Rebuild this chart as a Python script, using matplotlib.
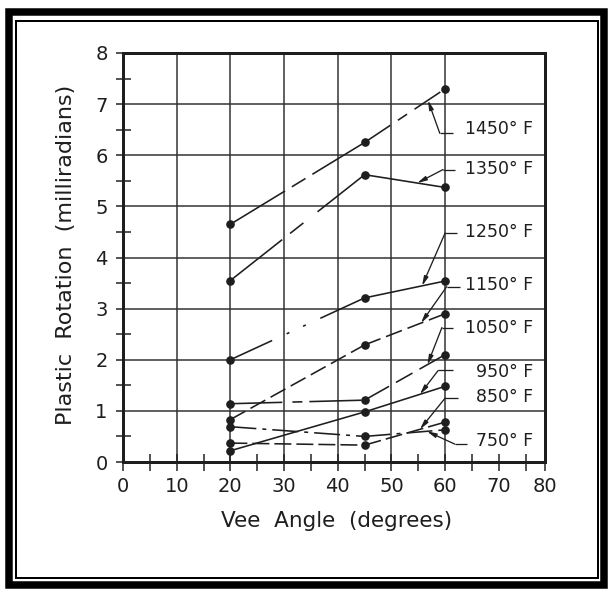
import matplotlib
matplotlib.use('Agg')
import matplotlib.pyplot as plt
import numpy as np
from matplotlib.ticker import MultipleLocator, FixedLocator
from matplotlib.patches import Rectangle

# ---------------- data ----------------
vee_angle = [20, 45, 60]
rot_1450 = [4.65, 6.25, 7.30]
rot_1350 = [3.55, 5.62, 5.37]
rot_1250 = [2.00, 3.21, 3.54]
rot_1150 = [0.83, 2.29, 2.90]
rot_1050 = [1.14, 1.21, 2.10]
rot_950 = [0.22, 0.98, 1.48]
rot_850 = [0.37, 0.33, 0.78]
rot_750 = [0.69, 0.50, 0.63]
temp_labels = ['1450° F', '1350° F', '1250° F', '1150° F',
               '1050° F', '950° F', '850° F', '750° F']
x_tick_values = [0, 10, 20, 30, 40, 50, 60, 70, 80]
y_tick_values = [0, 1, 2, 3, 4, 5, 6, 7, 8]
x_label = 'Vee  Angle  (degrees)'
y_label = 'Plastic  Rotation  (milliradians)'

series = [rot_1450, rot_1350, rot_1250, rot_1150,
          rot_1050, rot_950, rot_850, rot_750]

# ---------------- styles ----------------
# dash patterns per segment (pixels); None = solid
seg_styles = [
    ([64, 8, 16, 8], [31, 9, 11, 9]),
    ([66, 10, 17, 18], None),
    ([46, 16, 3, 15, 3, 16], None),
    ([17, 6], [17, 6]),
    ([52, 10, 10, 7], [28, 8, 19, 8]),
    (None, None),
    ([17, 5], [17, 5]),
    ([26, 6, 4, 6], [26, 6, 4, 6]),
]
# label placement: (text y, leader y, leader start x, corner x, arrow tip x)
label_pos = [
    (6.52, 6.43, 61.4, 59.0, 56.8),
    (5.74, 5.72, 61.8, 59.6, 54.8),
    (4.50, 4.48, 62.2, 60.0, 55.7),
    (3.46, 3.43, 62.8, 60.3, 55.5),
    (2.63, 2.63, 61.4, 59.4, 56.7),
    (1.77, 1.79, 61.4, 58.7, 55.3),
    (1.27, 1.25, 62.4, 60.0, 55.3),
    (0.41, 0.35, 64.1, 61.8, 56.6),
]
label_right_x = 76.35
ink = '#1e1e1e'
px = 72.0 / 100.0  # points per pixel at dpi 100

plt.rcParams['font.family'] = ['DejaVu Sans']
plt.rcParams['lines.scale_dashes'] = False

W, H = 610, 593
fig = plt.figure(figsize=(W / 100, H / 100), dpi=100)
fig.patch.set_facecolor('white')

# axes box in pixels
L, R, T, B = 123, 545, 53, 462
ax = fig.add_axes([L / W, 1 - B / H, (R - L) / W, (B - T) / H])
ax.set_xlim(0, 78.6)
ax.set_ylim(0, 8)

# grid
ax.vlines([v for v in x_tick_values if 0 < v <= 60], 0, 8, colors='#303030',
          linewidth=1.5 * px, zorder=1)
ax.hlines([v for v in y_tick_values if 0 < v < 8], 0, 78.6, colors='#303030',
          linewidth=1.5 * px, zorder=1)

# series
for vals, (s1, s2) in zip(series, seg_styles):
    for i, st in enumerate((s1, s2)):
        xs = vee_angle[i:i + 2]
        ys = vals[i:i + 2]
        line, = ax.plot(xs, ys, color=ink, linewidth=1.6 * px, zorder=3,
                        solid_capstyle='butt', dash_capstyle='butt')
        if st is not None:
            line.set_dashes([d * px for d in st])
    ax.plot(vee_angle, vals, linestyle='none', marker='o', markersize=5.2,
            color=ink, zorder=4)

# labels with leaders
for lab, vals, (ty, ly, sx, cx, tx) in zip(temp_labels, series, label_pos):
    tip_y = float(np.interp(tx, vee_angle, vals))
    ax.text(label_right_x, ty, lab, ha='right', va='center', fontsize=12.5,
            color=ink, zorder=5)
    ax.plot([sx, cx], [ly, ly], color=ink, linewidth=1.3 * px, zorder=5,
            solid_capstyle='butt')
    ax.annotate('', xy=(tx, tip_y), xytext=(cx, ly),
                arrowprops=dict(arrowstyle='-|>,head_length=0.55,head_width=0.13',
                                color=ink, lw=1.3 * px, shrinkA=0, shrinkB=0),
                zorder=5)

# spines
for sp in ax.spines.values():
    sp.set_linewidth(3 * px)
    sp.set_color(ink)
    sp.set_zorder(6)

# ticks
xt = [v for v in x_tick_values if v < 80] + [78.6]
ax.xaxis.set_major_locator(FixedLocator(xt))
ax.set_xticklabels([str(v) for v in x_tick_values])
ax.xaxis.set_minor_locator(FixedLocator([5, 15, 25, 35, 45, 55, 65, 75]))
ax.yaxis.set_major_locator(FixedLocator(y_tick_values))
ax.yaxis.set_minor_locator(MultipleLocator(0.5))
ax.tick_params(axis='x', which='both', direction='inout', length=17 * px,
               width=1.5 * px, color=ink, labelsize=14, pad=5, labelcolor=ink)
ax.tick_params(axis='y', which='major', direction='out', length=7 * px,
               width=1.5 * px, color=ink, labelsize=14, pad=6, labelcolor=ink)
ax.tick_params(axis='y', which='minor', direction='inout', length=15 * px,
               width=1.5 * px, color=ink)

# axis titles
fig.text(337 / W, 1 - 521 / H, x_label, ha='center', va='center',
         fontsize=15.5, color=ink)
fig.text(66 / W, 1 - 255 / H, y_label, ha='center', va='center',
         rotation=90, fontsize=16, color=ink)

# double frame
def frame(x0, y0, x1, y1, lw):
    fig.add_artist(Rectangle((x0 / W, 1 - y1 / H), (x1 - x0) / W, (y1 - y0) / H,
                             transform=fig.transFigure, fill=False,
                             edgecolor='black', linewidth=lw * px))

frame(9.25, 12, 603.5, 585, 7.5)
frame(15.5, 21, 597.5, 577.5, 2)

fig.savefig('out.png', dpi=100, facecolor='white')
